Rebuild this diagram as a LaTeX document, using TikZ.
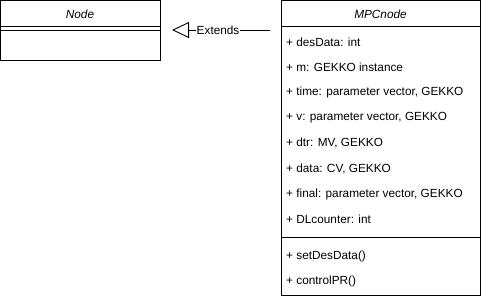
\documentclass[tikz,border=0pt]{standalone}
\usepackage{fontspec}
\setmainfont{Liberation Sans}
\usetikzlibrary{arrows.meta}
\begin{document}
\begin{tikzpicture}[x=1pt,y=-1pt,
  box/.style={draw=black,line width=0.9pt},
  member/.style={anchor=west,inner sep=0pt,font=\fontsize{11.8}{14}\selectfont},
  title/.style={inner sep=0pt,font=\fontsize{11.8}{14}\selectfont\itshape},
  lbl/.style={fill=white,inner sep=1pt,font=\fontsize{11.8}{14}\selectfont}]
\useasboundingbox (0,0) rectangle (481,298);
% superclass
\draw[box] (0.5,0.5) rectangle (160,60);
\draw[box] (0.5,26) -- (160,26);
\draw[box] (0.5,30) -- (160,30);
\node[title] (node) at (80,14) {Node};
\coordinate (nodeR) at (160,30);
% subclass
\draw[box] (281,0.5) rectangle (480,295);
\draw[box] (281,26) -- (480,26);
\draw[box] (281,237) -- (480,237);
\node[title] (mpc) at (380.5,14) {MPCnode};
\node[member] (a1) at (286,42) {+ desData: int};
\node[member] (a2) at (286,67) {+ m: GEKKO instance};
\node[member] (a3) at (286,92) {+ time: parameter vector, GEKKO};
\node[member] (a4) at (286,118) {+ v: parameter vector, GEKKO};
\node[member] (a5) at (286,143) {+ dtr: MV, GEKKO};
\node[member] (a6) at (286,169) {+ data: CV, GEKKO};
\node[member] (a7) at (286,194) {+ final: parameter vector, GEKKO};
\node[member] (a8) at (286,219) {+ DLcounter: int};
\node[member] (o1) at (286,256) {+ setDesData()};
\node[member] (o2) at (286,281) {+ controlPR()};
% generalisation
\coordinate (tip) at (172,30);
\coordinate (tail) at (270,30);
\draw[line width=0.9pt,-{Triangle[open,length=17pt,width=16pt]}] (tail) -- node[lbl,pos=0.53] {Extends} (tip);
\end{tikzpicture}
\end{document}
